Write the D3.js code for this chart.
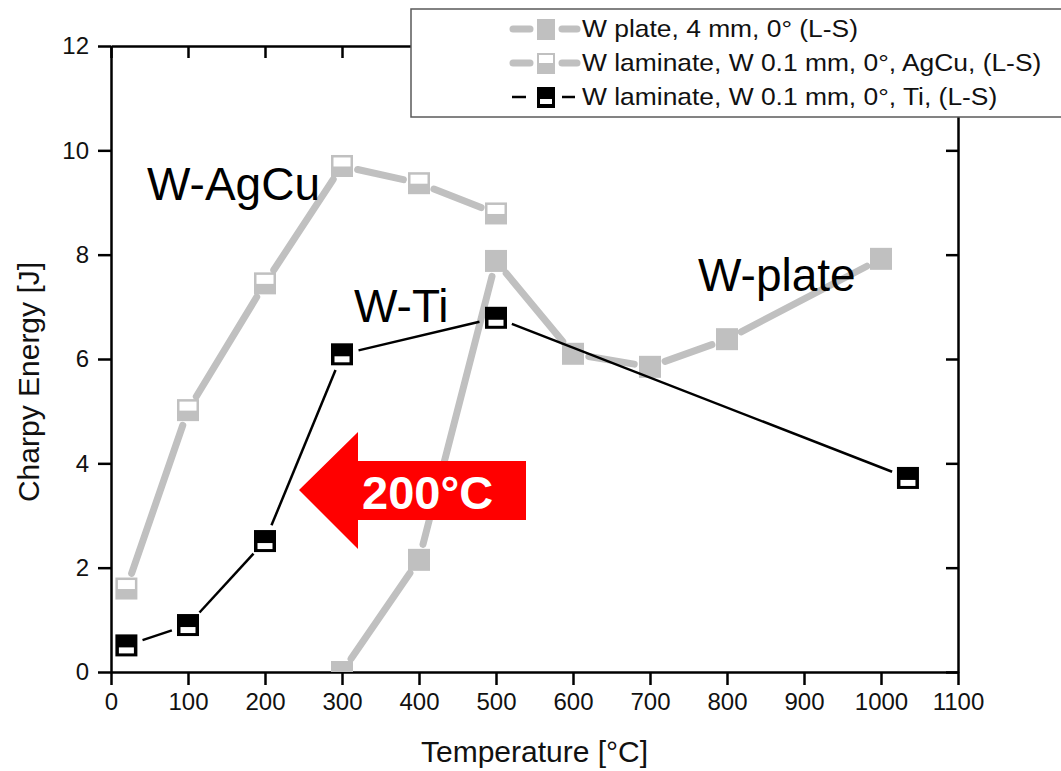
<!DOCTYPE html>
<html>
<head>
<meta charset="utf-8">
<script src="https://cdn.jsdelivr.net/npm/d3@7"></script>
<style>
  body { margin: 0; background: #fff; }
  text { font-family: "Liberation Sans", Arial, sans-serif; }
</style>
</head>
<body>
<svg id="chart" width="1061" height="771"></svg>
<script>
// data
const tempPlate = [300, 400, 500, 600, 700, 800, 1000];
const energyPlate = [0.0, 2.15, 7.88, 6.1, 5.85, 6.38, 7.92];

const tempAgCu = [20, 100, 200, 300, 400, 500];
const energyAgCu = [1.6, 5.02, 7.45, 9.7, 9.37, 8.79];

const tempTi = [20, 100, 200, 300, 500, 1035];
const energyTi = [0.51, 0.9, 2.51, 6.09, 6.79, 3.72];

const xTicks = [0, 100, 200, 300, 400, 500, 600, 700, 800, 900, 1000, 1100];
const yTicks = [0, 2, 4, 6, 8, 10, 12];

const legendLabels = [
  "W plate, 4 mm, 0° (L-S)",
  "W laminate, W 0.1 mm, 0°, AgCu, (L-S)",
  "W laminate, W 0.1 mm, 0°, Ti, (L-S)"
];

const GREY = "#c0c0c0";
const RED = "#ff0000";

const svg = d3.select("#chart");

const x = d3.scaleLinear().domain([0, 1100]).range([111, 958]);
const y = d3.scaleLinear().domain([0, 12]).range([672, 46]);

// clip for the data marks
svg.append("clipPath").attr("id", "plotclip")
  .append("rect")
  .attr("x", x(0)).attr("y", y(12))
  .attr("width", x(1100) - x(0)).attr("height", y(0) - y(12));

// axes: left / bottom outward ticks with labels, top / right inward ticks
function styleAxis(g) {
  g.select(".domain").attr("stroke", "#000").attr("stroke-width", 2.5);
  g.selectAll(".tick line").attr("stroke", "#000").attr("stroke-width", 2.5);
  g.selectAll(".tick text")
    .attr("fill", "#111")
    .style("font-size", "24px")
    .style("font-family", "'Liberation Sans', Arial, sans-serif");
}

svg.append("g")
  .attr("transform", `translate(0,${y(0)})`)
  .call(d3.axisBottom(x).tickValues(xTicks).tickFormat(d3.format("d"))
    .tickSize(13).tickSizeOuter(0).tickPadding(8))
  .call(styleAxis);

svg.append("g")
  .attr("transform", `translate(${x(0)},0)`)
  .call(d3.axisLeft(y).tickValues(yTicks).tickFormat(d3.format("d"))
    .tickSize(13).tickSizeOuter(0).tickPadding(9))
  .call(styleAxis);

svg.append("g")
  .attr("transform", `translate(0,${y(12)})`)
  .call(d3.axisTop(x).tickValues(xTicks).tickSize(-12).tickSizeOuter(0).tickFormat(""))
  .call(styleAxis);

svg.append("g")
  .attr("transform", `translate(${x(1100)},0)`)
  .call(d3.axisRight(y).tickValues(yTicks).tickSize(-12).tickSizeOuter(0).tickFormat(""))
  .call(styleAxis);

// axis titles
svg.append("text")
  .attr("x", (x(0) + x(1100)) / 2)
  .attr("y", 762)
  .attr("text-anchor", "middle")
  .attr("fill", "#111")
  .style("font-size", "30px")
  .text("Temperature [°C]");

svg.append("text")
  .attr("transform", `translate(39,382) rotate(-90)`)
  .attr("text-anchor", "middle")
  .attr("fill", "#111")
  .style("font-size", "30px")
  .text("Charpy Energy [J]");

// helpers
function toPts(xs, ys) {
  return xs.map((t, i) => [x(t), y(ys[i])]);
}

// segments between markers, shortened at both ends (gap around the symbols)
function gappedSegments(pts, gap) {
  const segs = [];
  for (let i = 0; i < pts.length - 1; i++) {
    const [x1, y1] = pts[i], [x2, y2] = pts[i + 1];
    const len = Math.hypot(x2 - x1, y2 - y1);
    if (len <= 2 * gap) continue;
    const ux = (x2 - x1) / len, uy = (y2 - y1) / len;
    segs.push([x1 + ux * gap, y1 + uy * gap, x2 - ux * gap, y2 - uy * gap]);
  }
  return segs;
}

const plot = svg.append("g").attr("clip-path", "url(#plotclip)");

const S = 22; // marker size

function drawSeries(pts, color, width, gap, cap) {
  plot.append("g").selectAll("line")
    .data(gappedSegments(pts, gap))
    .join("line")
    .attr("x1", d => d[0]).attr("y1", d => d[1])
    .attr("x2", d => d[2]).attr("y2", d => d[3])
    .attr("stroke", color)
    .attr("stroke-width", width)
    .attr("stroke-linecap", cap);
}

const ptsPlate = toPts(tempPlate, energyPlate);
const ptsAgCu = toPts(tempAgCu, energyAgCu);
const ptsTi = toPts(tempTi, energyTi);

drawSeries(ptsPlate, GREY, 7, 16, "round");
drawSeries(ptsAgCu, GREY, 7, 16, "round");

// W plate markers: full grey squares
plot.append("g").selectAll("rect")
  .data(ptsPlate)
  .join("rect")
  .attr("x", d => d[0] - S / 2).attr("y", d => d[1] - S / 2)
  .attr("width", S).attr("height", S)
  .attr("fill", GREY);

// AgCu markers: grey square, white upper part
const agcuG = plot.append("g").selectAll("g")
  .data(ptsAgCu)
  .join("g")
  .attr("transform", d => `translate(${d[0] - S / 2},${d[1] - S / 2})`);
agcuG.append("rect").attr("width", S).attr("height", S).attr("fill", GREY);
agcuG.append("rect").attr("x", 2.5).attr("y", 2.5).attr("width", S - 5).attr("height", 9).attr("fill", "#fff");

drawSeries(ptsTi, "#000", 2.5, 17, "butt");

// Ti markers: black square, white lower part
const tiG = plot.append("g").selectAll("g")
  .data(ptsTi)
  .join("g")
  .attr("transform", d => `translate(${d[0] - S / 2},${d[1] - S / 2})`);
tiG.append("rect").attr("width", S).attr("height", S).attr("fill", "#000");
tiG.append("rect").attr("x", 3.5).attr("y", 13).attr("width", S - 7).attr("height", 6).attr("fill", "#fff");

// series annotations
const notes = [
  { t: "W-AgCu", x: 147, y: 200 },
  { t: "W-Ti", x: 354, y: 322 },
  { t: "W-plate", x: 698, y: 291 }
];
svg.append("g").selectAll("text")
  .data(notes)
  .join("text")
  .attr("x", d => d.x).attr("y", d => d.y)
  .attr("fill", "#000")
  .style("font-size", "46px")
  .text(d => d.t);

// red arrow with 200°C
const arrow = [[299, 490], [358, 432], [358, 461], [526, 461], [526, 520], [358, 520], [358, 549]];
svg.append("path")
  .attr("d", d3.line()(arrow) + "Z")
  .attr("fill", RED);
svg.append("text")
  .attr("x", 362).attr("y", 509)
  .attr("fill", "#fff")
  .style("font-size", "47px")
  .style("font-weight", "bold")
  .text("200°C");

// legend
const lg = svg.append("g");
lg.append("rect")
  .attr("x", 411).attr("y", 9)
  .attr("width", 700).attr("height", 108)
  .attr("fill", "#fff")
  .attr("stroke", "#5a5a5a")
  .attr("stroke-width", 1.5);

const rowY = [29, 63, 97];
const lx = 546;

// row 1: W plate
lg.append("line").attr("x1", 513).attr("x2", 530).attr("y1", rowY[0]).attr("y2", rowY[0])
  .attr("stroke", GREY).attr("stroke-width", 7).attr("stroke-linecap", "round");
lg.append("line").attr("x1", 562).attr("x2", 577).attr("y1", rowY[0]).attr("y2", rowY[0])
  .attr("stroke", GREY).attr("stroke-width", 7).attr("stroke-linecap", "round");
lg.append("rect").attr("x", lx - 9).attr("y", rowY[0] - 10).attr("width", 18).attr("height", 21).attr("fill", GREY);

// row 2: AgCu
lg.append("line").attr("x1", 513).attr("x2", 530).attr("y1", rowY[1]).attr("y2", rowY[1])
  .attr("stroke", GREY).attr("stroke-width", 7).attr("stroke-linecap", "round");
lg.append("line").attr("x1", 562).attr("x2", 577).attr("y1", rowY[1]).attr("y2", rowY[1])
  .attr("stroke", GREY).attr("stroke-width", 7).attr("stroke-linecap", "round");
lg.append("rect").attr("x", lx - 9).attr("y", rowY[1] - 10).attr("width", 18).attr("height", 21).attr("fill", GREY);
lg.append("rect").attr("x", lx - 7).attr("y", rowY[1] - 8).attr("width", 14).attr("height", 8).attr("fill", "#fff");

// row 3: Ti
lg.append("line").attr("x1", 512).attr("x2", 526).attr("y1", rowY[2]).attr("y2", rowY[2])
  .attr("stroke", "#000").attr("stroke-width", 2.5);
lg.append("line").attr("x1", 562).attr("x2", 575).attr("y1", rowY[2]).attr("y2", rowY[2])
  .attr("stroke", "#000").attr("stroke-width", 2.5);
lg.append("rect").attr("x", lx - 9).attr("y", rowY[2] - 10).attr("width", 18).attr("height", 21).attr("fill", "#000");
lg.append("rect").attr("x", lx - 6).attr("y", rowY[2] + 2).attr("width", 12).attr("height", 5).attr("fill", "#fff");

// legend labels, slightly widened like the original export
lg.selectAll("text.lab")
  .data(legendLabels)
  .join("text")
  .attr("class", "lab")
  .attr("transform", (d, i) => `translate(582,${rowY[i] + 8}) scale(1.1,1)`)
  .attr("fill", "#111")
  .style("font-size", "24px")
  .text(d => d);
</script>
</body>
</html>
